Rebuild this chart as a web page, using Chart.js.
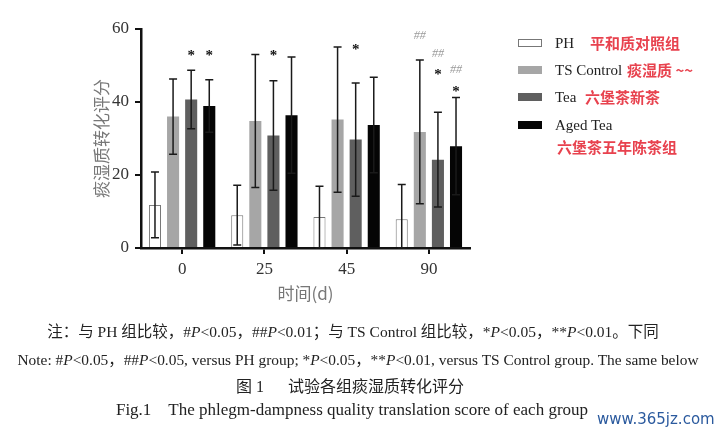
<!DOCTYPE html>
<html>
<head>
<meta charset="utf-8">
<script src="https://cdn.jsdelivr.net/npm/chart.js@4"></script>
<style>
  html, body { margin: 0; padding: 0; background: #fff; }
  body { width: 724px; height: 436px; position: relative; overflow: hidden; }
  #wrap { position: absolute; left: 0; top: 0; width: 724px; height: 436px; }
  .legend-row { position: absolute; left: 518px; height: 20px; display: flex; align-items: center; white-space: nowrap; }
  .legend-box { width: 24px; height: 8px; box-sizing: border-box; margin-right: 13px; }
  .legend-label { font-family: 'Liberation Serif', serif; font-size: 15px; color: #222; }
  .red { font-family: 'Noto Sans CJK SC', sans-serif; font-weight: bold; font-size: 15px; color: #e8424e; }
  .cap { position: absolute; left: 0; width: 724px; text-align: center; font-family: 'Liberation Serif', 'Noto Sans CJK SC', serif; color: #222; white-space: nowrap; }
  .cap i { font-style: italic; }
  #mark { position: absolute; left: 597px; top: 410px; font-family: 'DejaVu Sans', sans-serif; font-size: 15px; color: #2b5a9e; }
</style>
</head>
<body>
<div id="wrap"><canvas id="chart" width="724" height="436"></canvas></div>
<div id="legend"></div>
<div class="cap" style="top:319px;font-size:15.5px;left:-9px;">注：与 PH 组比较，#<i>P</i>&lt;0.05，##<i>P</i>&lt;0.01；与 TS Control 组比较，*<i>P</i>&lt;0.05，**<i>P</i>&lt;0.01。下同</div>
<div class="cap" style="top:347px;font-size:15.4px;left:-4px;">Note: #<i>P</i>&lt;0.05，##<i>P</i>&lt;0.05, versus PH group; *<i>P</i>&lt;0.05，**<i>P</i>&lt;0.01, versus TS Control group. The same below</div>
<div class="cap" style="top:373px;font-size:16px;left:-12px;">图 1&nbsp;&nbsp;&nbsp;&nbsp;&nbsp;&nbsp;试验各组痰湿质转化评分</div>
<div class="cap" style="top:400px;font-size:17px;left:-10px;">Fig.1&nbsp;&nbsp;&nbsp;&nbsp;The phlegm-dampness quality translation score of each group</div>
<div id="mark">www.365jz.com</div>
<script>
const days = ['0', '25', '45', '90'];
const groupNames = ['PH', 'TS Control', 'Tea', 'Aged Tea'];
const groupNotes = ['平和质对照组', '痰湿质 ~~', '六堡茶新茶', '六堡茶五年陈茶组'];

const phMean = [11.8, 9.0, 8.5, 7.9];
const phSd = [9.0, 8.2, 8.4, 9.5];
const tsMean = [36.0, 34.8, 35.2, 31.8];
const tsSd = [10.3, 18.2, 19.9, 19.7];
const teaMean = [40.7, 30.8, 29.7, 24.2];
const teaSd = [8.0, 15.0, 15.5, 13.0];
const agedMean = [38.9, 36.4, 33.7, 27.9];
const agedSd = [7.2, 15.9, 13.1, 13.3];

// significance marks: [day index, group index, text, level]
const sigMarks = [
  [0, 2, '*', 53.5], [0, 3, '*', 53.5],
  [1, 2, '*', 53.5],
  [2, 2, '*', 54.9],
  [3, 1, '##', 58.1], [3, 2, '##', 53.2], [3, 2, '*', 48.3],
  [3, 3, '##', 48.8], [3, 3, '*', 43.5],
];

const fills = ['#ffffff', '#a6a6a6', '#5f5f5f', '#050505'];
const means = [phMean, tsMean, teaMean, agedMean];
const sds = [phSd, tsSd, teaSd, agedSd];

const errorBars = {
  id: 'errorBars',
  afterDatasetsDraw(chart) {
    const { ctx, scales: { y } } = chart;
    ctx.save();
    ctx.strokeStyle = '#1a1a1a';
    ctx.lineWidth = 1.5;
    chart.data.datasets.forEach((ds, i) => {
      chart.getDatasetMeta(i).data.forEach((bar, j) => {
        const top = y.getPixelForValue(ds.data[j] + ds.sd[j]);
        const bot = y.getPixelForValue(Math.max(0, ds.data[j] - ds.sd[j]));
        ctx.beginPath();
        ctx.moveTo(bar.x, top); ctx.lineTo(bar.x, bot);
        ctx.moveTo(bar.x - 4, top); ctx.lineTo(bar.x + 4, top);
        ctx.moveTo(bar.x - 4, bot); ctx.lineTo(bar.x + 4, bot);
        ctx.stroke();
      });
    });
    ctx.textAlign = 'center';
    ctx.textBaseline = 'middle';
    sigMarks.forEach(([d, g, txt, lvl]) => {
      const bar = chart.getDatasetMeta(g).data[d];
      if (txt === '*') {
        ctx.fillStyle = '#111';
        ctx.font = 'bold 15px "Liberation Serif"';
        ctx.fillText(txt, bar.x, y.getPixelForValue(lvl) + 3);
      } else {
        ctx.fillStyle = '#9a9a9a';
        ctx.font = 'italic 12px "Liberation Serif"';
        ctx.fillText(txt, bar.x, y.getPixelForValue(lvl));
      }
    });
    ctx.restore();
  },
};

const chart = new Chart(document.getElementById('chart'), {
  type: 'bar',
  data: {
    labels: days,
    datasets: groupNames.map((name, i) => ({
      label: name,
      data: means[i],
      sd: sds[i],
      backgroundColor: fills[i],
      borderColor: i === 0 ? '#777' : fills[i],
      borderWidth: i === 0 ? 1 : 0,
      categoryPercentage: 0.88,
      barPercentage: 0.667,
    })),
  },
  options: {
    responsive: false,
    animation: false,
    events: [],
    layout: { padding: { left: 85, top: 29, right: 254, bottom: 128 } },
    plugins: { legend: { display: false }, tooltip: { enabled: false } },
    scales: {
      x: {
        afterFit: s => { s.height = 60; },
        grid: { display: true, offset: false, drawOnChartArea: false, tickLength: 6, color: '#111', lineWidth: 2 },
        border: { display: true, color: '#111', width: 2.5 },
        ticks: { padding: 5, color: '#333', font: { family: 'Liberation Serif', size: 17 } },
        title: { display: true, text: '时间(d)', color: '#777', padding: { top: 7 }, font: { family: 'Noto Sans CJK SC', size: 17 } },
      },
      y: {
        min: 0,
        max: 60,
        afterFit: s => { s.width = 56; },
        grid: { display: true, drawOnChartArea: false, tickLength: 6, color: '#111', lineWidth: 2 },
        border: { display: true, color: '#111', width: 2.5 },
        ticks: { stepSize: 20, padding: 6, color: '#333', font: { family: 'Liberation Serif', size: 17 } },
        title: { display: true, text: '痰湿质转化评分', color: '#777', padding: { top: 6, bottom: 0 }, font: { family: 'Noto Sans CJK SC', size: 17 } },
      },
    },
  },
  plugins: [errorBars],
});

// HTML legend built from the dataset list
const legendTops = [33, 60, 87, 115];
const noteLeft = [590, 627, 585, 557];
const legend = document.getElementById('legend');
groupNames.forEach((name, i) => {
  const row = document.createElement('div');
  row.className = 'legend-row';
  row.style.top = legendTops[i] + 'px';
  const box = document.createElement('div');
  box.className = 'legend-box';
  box.style.background = fills[i];
  box.style.border = i === 0 ? '1px solid #777' : 'none';
  const label = document.createElement('span');
  label.className = 'legend-label';
  label.textContent = name;
  row.appendChild(box);
  row.appendChild(label);
  legend.appendChild(row);
  const note = document.createElement('div');
  note.className = 'red';
  note.style.position = 'absolute';
  note.style.whiteSpace = 'nowrap';
  note.style.left = noteLeft[i] + 'px';
  note.style.top = (i === 3 ? 136 : legendTops[i] - 1) + 'px';
  note.textContent = groupNotes[i];
  legend.appendChild(note);
});
</script>
</body>
</html>
